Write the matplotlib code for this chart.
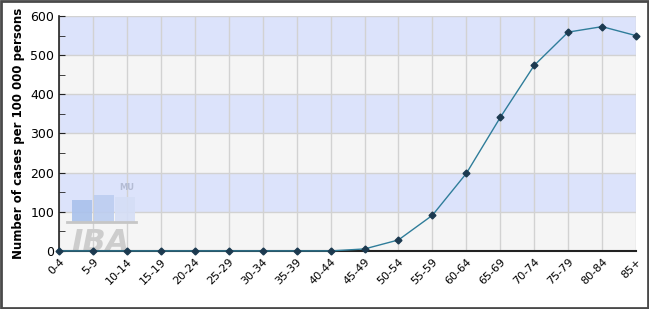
import matplotlib
matplotlib.use("Agg")
import matplotlib.pyplot as plt
from matplotlib.patches import Rectangle

age_groups = ["0-4", "5-9", "10-14", "15-19", "20-24", "25-29", "30-34", "35-39",
              "40-44", "45-49", "50-54", "55-59", "60-64", "65-69", "70-74",
              "75-79", "80-84", "85+"]
rates = [0, 0, 0, 0, 0, 0, 0, 0, 0, 5, 28, 91, 198, 341, 474, 559, 573, 550]
y_ticks = [0, 100, 200, 300, 400, 500, 600]

fig = plt.figure(figsize=(6.49, 3.09), dpi=100)
ax = fig.add_axes([0.091, 0.188, 0.889, 0.760])

x = list(range(len(age_groups)))

# alternating bands
for i, lo in enumerate(y_ticks[:-1]):
    col = "#f5f5f5" if i % 2 == 0 else "#dce3fb"
    ax.axhspan(lo, lo + 100, color=col, zorder=0, lw=0)

ax.set_xlim(0, len(age_groups) - 1)
ax.set_ylim(0, 600)
ax.grid(True, color="#d2d2d2", lw=1, zorder=1)
ax.set_axisbelow(True)

# watermark logo
ax.text(0.022, 0.0, "IBA", transform=ax.transAxes, fontsize=22, fontweight="bold",
        style="italic", color="#cdcdcd", zorder=2)
ax.text(0.118, 0.268, "MU", transform=ax.transAxes, fontsize=6, fontweight="bold",
        color="#b4bcd4", ha="center", va="center", zorder=2)
for bx, top, bc in [(0.022, 0.217, "#a9c1ec"), (0.060, 0.238, "#bccdf0"), (0.097, 0.230, "#d5def6")]:
    ax.add_patch(Rectangle((bx, 0.123), 0.035, top - 0.123, transform=ax.transAxes,
                           color=bc, alpha=0.9, zorder=2, lw=0))
ax.plot([0.014, 0.134], [0.123, 0.123], transform=ax.transAxes, color="#c6c6c6", lw=2, zorder=2)

ax.plot(x, rates, color="#2f7d9a", lw=1, marker="D", ms=3.5,
        mfc="#1c3a50", mec="#1c3a50", zorder=4, clip_on=False)

ax.set_xticks(x)
ax.set_xticklabels(age_groups, rotation=45, ha="right", rotation_mode="anchor", fontsize=8)
ax.set_yticks(y_ticks)
ax.set_yticks(range(50, 600, 100), minor=True)
ax.tick_params(axis="y", labelsize=9, length=4, direction="in", color="#222")
ax.tick_params(axis="y", which="minor", length=4, direction="in", color="#222")
ax.tick_params(axis="x", length=0, pad=4)
ax.set_ylabel("Number of cases per 100 000 persons", fontsize=8.5, fontweight="bold", labelpad=4)

for s in ["top", "right"]:
    ax.spines[s].set_visible(False)
ax.spines["left"].set_color("#222")
ax.spines["bottom"].set_color("#222")
ax.spines["left"].set_linewidth(1.2)
ax.spines["bottom"].set_linewidth(1.5)

fig.patches.append(Rectangle((0.002, 0.003), 0.996, 0.994, transform=fig.transFigure,
                             fill=False, edgecolor="#4a4a4a", lw=2))

fig.savefig("out.png", dpi=100, facecolor="white")
